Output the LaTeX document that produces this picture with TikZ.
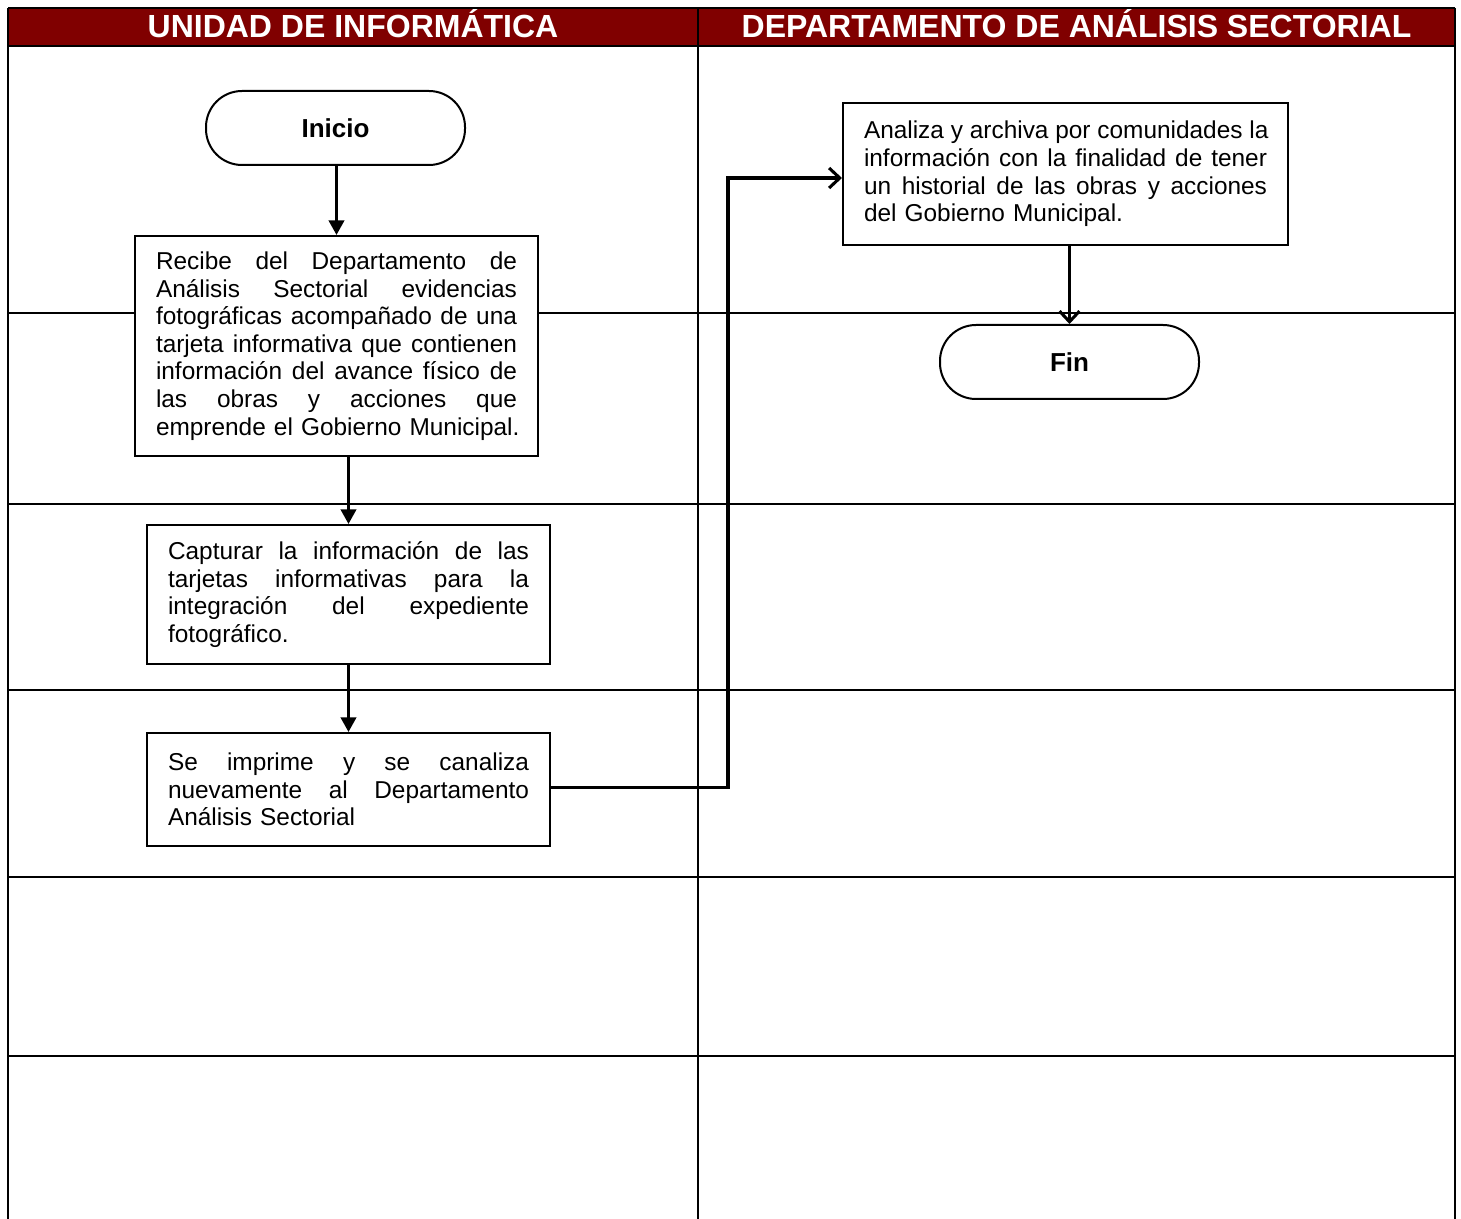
\documentclass[tikz,border=0pt]{standalone}
\usepackage{fontspec}
\setmainfont{Liberation Sans}
\usetikzlibrary{arrows.meta}
\definecolor{hdrred}{RGB}{128,0,0}
\newcommand\jl[1]{\hbox to \hsize{\spaceskip=0.28em plus 1fil\relax #1}\par}
\newcommand\jlast[1]{\hbox{#1}\par}
\begin{document}
\begin{tikzpicture}[x=0.75pt,y=-0.75pt,
  grid/.style={line width=2pt,black},
  hdrtext/.style={text=white,font=\fontsize{24}{28}\selectfont\bfseries,inner sep=0pt,anchor=base},
  procbox/.style={draw,line width=1.5pt,align=left,inner sep=0pt,
     font=\fontsize{18.3}{20.7}\selectfont,execute at begin node={\parindent=0pt}},
  term/.style={draw,line width=1.5pt,rounded corners=27pt,minimum width=194.25pt,
     minimum height=55.5pt,font=\fontsize{19.5}{22}\selectfont\bfseries},
  solidflow/.style={line width=2.3pt,-{Triangle[length=11pt,width=11.5pt]}},
  openflow/.style={line width=2.3pt,-{Straight Barb[length=8pt,width=15pt]}}]
\useasboundingbox (0,0) rectangle (1461,1219);
% header band
\fill[hdrred] (8,8) rectangle (1455,46);
\node[hdrtext] (h1) at (353,38) {UNIDAD DE INFORMÁTICA};
\node[hdrtext] (h2) at (1076.5,38) {DEPARTAMENTO DE ANÁLISIS SECTORIAL};
% grid
\draw[grid] (8,8) -- (1455,8);
\draw[grid] (8,46) -- (1455,46);
\foreach \yy in {313,504,690,877,1056} \draw[grid] (8,\yy) -- (1455,\yy);
\draw[grid] (8,8) -- (8,1219);
\draw[grid] (698,8) -- (698,1219);
\draw[grid] (1455,8) -- (1455,1219);
% nodes
\node[term,fill=white] (inicio) at (335.5,128) {Inicio};
\node[procbox,fill=white,minimum width=302.25pt,minimum height=165pt,text width=270.75pt] (b1) at (336.5,346) {%
\jl{Recibe del Departamento de}
\jl{Análisis Sectorial evidencias}
\jl{fotográficas acompañado de una}
\jl{tarjeta informativa que contienen}
\jl{información del avance físico de}
\jl{las obras y acciones que}
\jlast{emprende el Gobierno Municipal.}};
\node[procbox,fill=white,minimum width=302.25pt,minimum height=104.25pt,text width=270.75pt] (b2) at (348.5,594.5) {%
\jl{Capturar la información de las}
\jl{tarjetas informativas para la}
\jl{integración del expediente}
\jlast{fotográfico.}};
\node[procbox,fill=white,minimum width=302.25pt,minimum height=84.75pt,text width=270.75pt] (b3) at (348.5,789.5) {%
\jl{Se imprime y se canaliza}
\jl{nuevamente al Departamento}
\jlast{Análisis Sectorial}};
\node[procbox,fill=white,minimum width=333.75pt,minimum height=106.5pt,text width=302.25pt] (b4) at (1065.5,174) {%
\jl{Analiza y archiva por comunidades la}
\jl{información con la finalidad de tener}
\jl{un historial de las obras y acciones}
\jlast{del Gobierno Municipal.}};
\node[term,fill=white] (fin) at (1069.5,362) {Fin};
\coordinate (lane) at (728,0);
% connectors
\draw[solidflow] (inicio.south -| b1.north) -- (b1.north);
\draw[solidflow] (b1.south -| b2.north) -- (b2.north);
\draw[solidflow] (b2.south) -- (b3.north);
\draw[openflow] ([yshift=1.8pt]b3.east) -- ([yshift=1.8pt]b3.east -| lane) |- ([yshift=-3pt]b4.west);
\draw[openflow] (b4.south -| fin.north) -- (fin.north);
\end{tikzpicture}
\end{document}
